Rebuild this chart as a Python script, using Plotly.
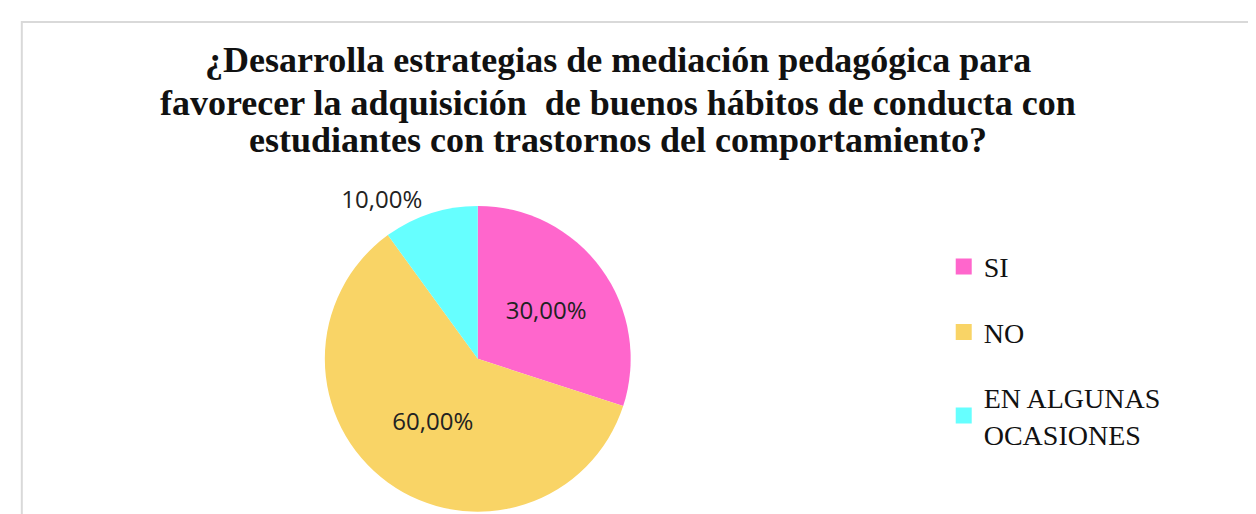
import plotly.graph_objects as go

categories = ["SI", "NO", "EN ALGUNAS<br>OCASIONES"]
values = [30, 60, 10]
value_labels = ["30,00%", "60,00%", "10,00%"]
colors = ["#FF66CC", "#F9D466", "#66FFFF"]
title_lines = ["¿Desarrolla estrategias de mediación pedagógica para",
               "favorecer la adquisición  de buenos hábitos de conducta con",
               "estudiantes con trastornos del comportamiento?"]

fig = go.Figure()
fig.add_trace(go.Pie(
    labels=categories,
    values=values,
    text=value_labels,
    texttemplate="%{text}",
    textposition=["inside", "inside", "outside"],
    insidetextorientation="horizontal",
    textfont=dict(family="Open Sans, Liberation Sans, sans-serif", size=24, color="#222222"),
    marker=dict(colors=colors, line=dict(color="white", width=0)),
    sort=False,
    direction="clockwise",
    rotation=0,
    showlegend=False,
    domain=dict(x=[0.234, 0.514], y=[0.02, 0.615]),
    hoverinfo="label+percent",
))

# legend entries (one group each so the gaps can match the reference)
for i, (cat, col) in enumerate(zip(categories, colors)):
    fig.add_trace(go.Scatter(
        x=[None], y=[None], mode="markers", name=cat,
        marker=dict(symbol="square", size=20, color=col),
        legendgroup=f"g{i}", showlegend=True, hoverinfo="skip",
    ))

annotations = []
line_y = [0.898, 0.816, 0.743]
for txt, yy in zip(title_lines, line_y):
    annotations.append(dict(
        text=f"<b>{txt}</b>", x=0.486, y=yy, xref="paper", yref="paper",
        xanchor="center", yanchor="middle", showarrow=False,
        font=dict(family="Liberation Serif, Times New Roman, serif", size=36, color="#111111"),
    ))

fig.update_layout(
    width=1256, height=514,
    paper_bgcolor="white", plot_bgcolor="white",
    margin=dict(l=0, r=0, t=0, b=0),
    xaxis=dict(visible=False), yaxis=dict(visible=False),
    annotations=annotations,
    legend=dict(x=0.745, y=0.545, xanchor="left", yanchor="top",
                font=dict(family="Liberation Serif, Times New Roman, serif", size=28, color="#111111"),
                tracegroupgap=26, itemwidth=30, bgcolor="rgba(0,0,0,0)"),
    shapes=[dict(type="rect", xref="paper", yref="paper", x0=0.011, y0=-0.05, x1=1.05, y1=0.973,
                 line=dict(color="#D9D9D9", width=2), fillcolor="rgba(0,0,0,0)")],
)

fig.write_html("out.html")
